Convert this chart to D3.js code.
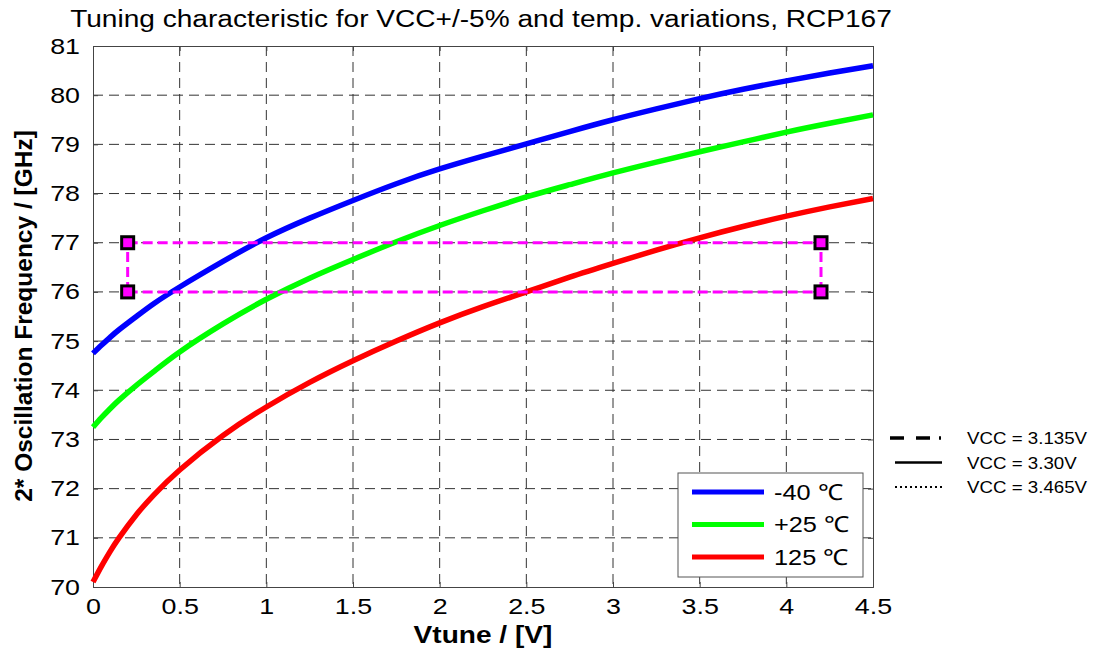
<!DOCTYPE html>
<html>
<head>
<meta charset="utf-8">
<script src="https://cdn.jsdelivr.net/npm/d3@7"></script>
<style>
  body { margin: 0; background: #fff; }
  text { font-family: "Liberation Sans", Arial, sans-serif; fill: #000; }
  .grid line { stroke: #333; stroke-width: 1; stroke-dasharray: 10,6; }
</style>
</head>
<body>
<script>
// data
const vtune = [0, 0.05, 0.1, 0.15, 0.25, 0.35, 0.5, 0.75, 1, 1.25, 1.5, 1.75, 2, 2.25, 2.5, 2.75, 3, 3.25, 3.5, 3.75, 4, 4.25, 4.5];
const fMinus40 = [74.75, 74.92, 75.08, 75.23, 75.5, 75.76, 76.1, 76.62, 77.1, 77.5, 77.86, 78.2, 78.5, 78.76, 79.01, 79.26, 79.5, 79.72, 79.93, 80.12, 80.29, 80.45, 80.6];
const fPlus25 = [73.25, 73.45, 73.63, 73.8, 74.1, 74.38, 74.78, 75.35, 75.85, 76.28, 76.66, 77.02, 77.35, 77.65, 77.93, 78.18, 78.42, 78.64, 78.85, 79.05, 79.25, 79.43, 79.6];
const f125 = [70.1, 70.43, 70.73, 71.0, 71.47, 71.87, 72.38, 73.08, 73.66, 74.16, 74.6, 75.0, 75.37, 75.7, 76.0, 76.3, 76.58, 76.85, 77.1, 77.33, 77.54, 77.73, 77.9];
const series = [
  { name: '-40 \u2103', values: fMinus40, color: '#0000ff' },
  { name: '+25 \u2103', values: fPlus25, color: '#00ff00' },
  { name: '125 \u2103', values: f125, color: '#ff0000' }
];
const xTicks = [0, 0.5, 1, 1.5, 2, 2.5, 3, 3.5, 4, 4.5];
const yTicks = [70, 71, 72, 73, 74, 75, 76, 77, 78, 79, 80, 81];
const boxX = [0.2, 4.2];
const boxY = [76, 77];
const vccLabels = ['VCC = 3.135V', 'VCC = 3.30V', 'VCC = 3.465V'];
const vccDash = ['14,12,14,9,2,30', null, '2,3'];

let width = 1102, height = 652;
const margin = { top: 46, right: 229, bottom: 65, left: 93 };
let plotWidth = width - margin.left - margin.right;
let plotHeight = height - margin.top - margin.bottom;

// the original picture is a bit wider than tall, so text is stretched sideways
function stretch(sel, k) {
  sel.each(function () {
    let w = this.getComputedTextLength();
    d3.select(this).attr('textLength', w * k).attr('lengthAdjust', 'spacingAndGlyphs');
  });
}

let svg = d3.select('body').append('svg')
  .attr('width', width).attr('height', height);

let x = d3.scaleLinear().domain([0, 4.5]).range([0, plotWidth]);
let y = d3.scaleLinear().domain([70, 81]).range([plotHeight, 0]);

let plot = svg.append('g').attr('transform', `translate(${margin.left},${margin.top})`);

// grid
let grid = plot.append('g').attr('class', 'grid');
grid.selectAll('line.v').data(xTicks.slice(1, -1)).join('line')
  .attr('x1', d => x(d)).attr('x2', d => x(d)).attr('y1', 0).attr('y2', plotHeight);
grid.selectAll('line.h').data(yTicks.slice(1, -1)).join('line')
  .attr('y1', d => y(d)).attr('y2', d => y(d)).attr('x1', 0).attr('x2', plotWidth);

// axes (ticks inside, matlab-ish)
let xAxis = plot.append('g').attr('transform', `translate(0,${plotHeight})`)
  .call(d3.axisBottom(x).tickValues(xTicks).tickSize(-5).tickPadding(11).tickFormat(d3.format('')));
let xAxisTop = plot.append('g')
  .call(d3.axisTop(x).tickValues(xTicks).tickSize(-5).tickFormat(''));
let yAxis = plot.append('g')
  .call(d3.axisLeft(y).tickValues(yTicks).tickSize(-5).tickPadding(13).tickFormat(d3.format('d')));
let yAxisRight = plot.append('g').attr('transform', `translate(${plotWidth},0)`)
  .call(d3.axisRight(y).tickValues(yTicks).tickSize(-5).tickFormat(''));
[xAxis, xAxisTop, yAxis, yAxisRight].forEach(a => {
  a.select('.domain').attr('stroke', '#444');
  a.selectAll('.tick line').attr('stroke', '#444');
  a.selectAll('text').style('font-size', '22px').attr('fill', '#000');
});
xAxis.selectAll('text').attr('dy', '0.71em');
stretch(xAxis.selectAll('text'), 1.22);
stretch(yAxis.selectAll('text'), 1.22);

// curves
let line = d3.line().curve(d3.curveNatural)
  .x((d, i) => x(vtune[i])).y(d => y(d));
plot.selectAll('path.curve').data(series).join('path')
  .attr('class', 'curve')
  .attr('fill', 'none')
  .attr('stroke', d => d.color)
  .attr('stroke-width', 5.5)
  .attr('d', d => line(d.values));

// magenta box
let mag = '#ff00ff';
boxY.forEach(v => {
  plot.append('line').attr('x1', x(boxX[0])).attr('x2', x(boxX[1]))
    .attr('y1', y(v)).attr('y2', y(v))
    .attr('stroke', mag).attr('stroke-width', 3).attr('stroke-dasharray', '10,5');
});
boxX.forEach(v => {
  plot.append('line').attr('x1', x(v)).attr('x2', x(v))
    .attr('y1', y(boxY[0])).attr('y2', y(boxY[1]))
    .attr('stroke', mag).attr('stroke-width', 3).attr('stroke-dasharray', '10,5');
});
let corners = [];
boxX.forEach(a => boxY.forEach(b => corners.push([a, b])));
plot.selectAll('rect.mk').data(corners).join('rect')
  .attr('class', 'mk')
  .attr('x', d => x(d[0]) - 6).attr('y', d => y(d[1]) - 6)
  .attr('width', 12).attr('height', 12)
  .attr('fill', mag).attr('stroke', '#000').attr('stroke-width', 3);

// legend
let lg = plot.append('g').attr('transform', `translate(${678 - margin.left},${473 - margin.top})`);
lg.append('rect').attr('width', 185).attr('height', 104)
  .attr('fill', '#fff').attr('stroke', '#555').attr('stroke-width', 1);
series.forEach((s, i) => {
  let yy = 19 + i * 32.5;
  lg.append('line').attr('x1', 14).attr('x2', 86).attr('y1', yy).attr('y2', yy)
    .attr('stroke', s.color).attr('stroke-width', 5);
  lg.append('text').attr('x', 96).attr('y', yy).attr('dy', '0.36em')
    .style('font-size', '22px').text(s.name)
    .call(stretch, 1.15);
});

// VCC legend outside
let vg = svg.append('g').attr('transform', 'translate(890,438)');
vccLabels.forEach((t, i) => {
  let yy = i * 24.5;
  vg.append('line').attr('x1', i === 0 ? 0 : 5).attr('x2', 52).attr('y1', yy).attr('y2', yy)
    .attr('stroke', '#000').attr('stroke-width', i === 0 ? 3.5 : (i === 2 ? 2 : 2.5))
    .attr('stroke-dasharray', vccDash[i]);
  vg.append('text').attr('x', 77).attr('y', yy).attr('dy', '0.36em')
    .style('font-size', '17px').text(t)
    .call(stretch, 1.1);
});

// title and axis labels
svg.append('text').attr('x', 481).attr('y', 27).attr('text-anchor', 'middle')
  .style('font-size', '23px').text('Tuning characteristic for VCC+/-5% and temp. variations, RCP167')
  .call(stretch, 1.22);
svg.append('text').attr('x', 483).attr('y', 643).attr('text-anchor', 'middle')
  .style('font-size', '23px').style('font-weight', 'bold').text('Vtune / [V]')
  .call(stretch, 1.22);
svg.append('text').attr('transform', 'translate(32,316) rotate(-90)').attr('text-anchor', 'middle')
  .style('font-size', '24.5px').style('font-weight', 'bold').text('2* Oscillation Frequency / [GHz]');
</script>
</body>
</html>
